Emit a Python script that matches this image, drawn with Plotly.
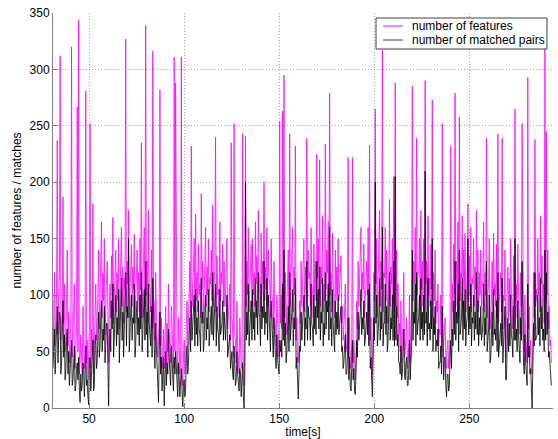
import numpy as np
import plotly.graph_objects as go

t_start = 31.0
t_step = 0.375

features = [
    45,70,120,55,80,100,237,65,95,120,312,60,70,90,187,75,110,50,60,95,140,55,85,40,50,80,320,45,75,90,110,35,60,70,267,50,344,30,40,65,
    50,30,90,60,35,55,281,40,60,25,45,70,252,35,70,50,181,30,55,85,110,60,75,100,140,70,95,120,165,80,120,95,150,65,100,115,130,70,40,85,
    110,80,135,100,169,75,95,120,140,85,120,95,150,70,105,130,160,90,125,75,115,105,327,85,130,110,175,80,110,125,145,90,125,105,154,75,100,115,140,95,
    120,85,150,105,235,80,110,125,160,90,339,100,130,75,175,110,105,85,140,70,316,95,95,60,120,85,70,45,60,80,282,55,80,35,50,70,35,60,90,40,
    75,50,110,70,55,40,90,65,60,35,311,50,288,60,45,30,80,55,30,45,311,35,20,45,60,30,40,75,95,55,70,100,130,80,232,90,110,120,150,85,
    172,95,120,85,145,100,110,80,190,105,130,75,100,120,160,90,125,100,150,85,115,110,140,95,180,90,120,125,240,85,135,100,105,80,165,95,120,110,145,90,
    130,90,100,120,150,70,85,95,110,60,235,80,70,45,252,65,60,40,95,55,45,30,80,50,35,40,243,25,20,45,241,90,130,100,160,85,110,125,145,90,
    150,100,120,90,165,110,135,95,175,120,110,85,155,100,130,110,200,95,125,105,160,90,140,115,110,80,150,100,95,70,130,85,75,55,100,65,60,45,254,75,
    100,70,263,90,295,80,120,65,85,100,140,75,243,90,110,120,160,85,125,100,232,60,80,45,40,55,95,75,130,90,110,120,150,85,125,105,239,90,140,115,
    120,90,160,110,105,80,145,100,130,95,225,115,150,100,220,90,125,110,170,85,110,95,234,105,140,120,165,90,279,100,120,85,155,110,100,80,140,95,125,100,
    150,95,110,120,135,75,90,60,70,85,110,50,55,70,222,45,80,35,40,55,222,40,60,30,25,50,95,70,130,90,110,125,160,95,120,105,145,80,100,115,
    130,100,160,85,233,60,80,45,30,70,120,95,265,110,150,80,110,120,175,90,130,105,317,85,120,115,160,95,140,75,100,120,185,90,125,110,150,95,205,85,
    288,90,140,80,110,65,75,50,95,40,60,75,120,45,50,60,80,35,45,55,100,40,70,85,285,95,130,110,160,85,239,100,120,120,150,95,175,105,130,90,
    150,95,290,110,130,85,170,100,115,90,145,105,273,80,120,95,140,75,95,85,110,55,70,65,100,50,252,45,55,70,80,40,35,55,60,35,45,75,232,60,
    110,85,145,100,279,90,130,110,165,80,258,95,120,115,170,90,140,105,155,85,110,120,181,95,135,100,160,85,115,110,150,90,125,105,175,95,140,85,120,100,
    140,90,105,115,165,85,120,100,239,80,100,110,150,70,80,95,130,85,155,100,110,90,145,80,243,75,95,110,120,85,239,70,100,95,140,45,70,90,125,80,
    115,85,150,100,95,70,135,90,265,95,110,80,145,100,85,65,120,90,252,75,70,50,100,60,55,40,293,70,90,45,60,35,30,55,120,80,238,90,105,95,
    150,100,120,85,170,110,135,90,110,75,319,95,245,100,140,70,90,55,60,40,
]

matched = [
    35,50,70,30,55,70,90,40,60,85,80,30,40,60,95,45,65,25,35,60,70,30,50,20,30,45,60,20,25,40,55,15,20,35,40,25,45,15,5,30,
    15,20,40,35,10,30,55,20,25,10,3,40,45,15,30,30,60,15,20,55,65,35,40,65,85,45,55,80,95,50,70,60,90,40,60,75,75,45,2,55,
    70,50,95,70,110,45,60,85,100,55,80,65,105,40,65,90,115,60,85,45,75,75,120,55,90,80,150,50,70,90,100,60,80,75,110,45,55,85,95,65,
    80,55,100,70,120,50,70,85,105,60,130,65,85,45,110,75,65,55,90,45,115,60,55,35,75,55,40,25,5,50,85,30,45,15,25,45,2,35,50,20,
    40,30,70,45,30,20,55,40,25,15,45,30,50,35,15,10,40,30,10,25,35,15,1,20,25,10,15,45,55,30,40,65,80,50,95,60,70,80,100,55,
    105,65,80,55,95,70,65,50,115,75,85,50,60,85,100,60,80,70,105,55,70,75,90,65,120,60,75,90,110,55,90,70,65,50,105,65,70,75,95,60,
    85,60,60,80,100,45,50,60,65,35,45,50,30,25,55,40,20,25,50,30,15,15,35,30,10,20,40,10,0,25,200,60,85,65,110,55,70,85,95,60,
    105,70,85,60,115,80,95,65,120,85,80,55,110,70,90,80,130,65,85,75,115,60,100,85,70,50,95,70,55,45,80,55,45,35,65,45,35,30,60,50,
    60,45,110,60,140,55,75,40,50,65,90,50,120,60,70,85,105,55,80,70,115,35,45,20,8,30,55,50,85,60,70,85,100,55,80,70,130,60,90,80,
    80,60,110,75,70,55,100,70,90,65,130,80,105,70,125,60,85,75,115,55,75,65,120,70,95,85,110,60,160,70,80,55,105,75,65,50,95,65,85,70,
    100,65,75,80,90,50,55,35,40,55,65,30,30,45,80,25,45,20,15,35,60,25,35,15,12,30,60,45,85,60,70,85,105,65,80,70,95,55,60,80,
    85,65,105,55,110,35,45,25,10,45,80,60,200,75,100,55,70,80,115,60,85,70,160,55,75,75,110,65,90,50,60,80,120,60,80,70,100,60,130,55,
    205,60,90,55,65,40,40,30,55,25,30,50,70,30,25,40,45,20,20,35,60,25,40,55,140,60,85,75,110,55,120,65,75,80,100,60,115,70,85,60,
    100,65,210,75,85,55,115,70,75,60,95,70,150,50,80,65,90,50,60,55,70,35,40,40,55,30,90,25,25,45,45,20,10,30,30,15,20,45,60,35,
    70,55,95,65,130,60,85,75,110,50,140,65,80,80,115,60,95,70,105,55,75,80,150,65,90,70,110,55,80,75,100,60,85,70,120,65,95,55,80,65,
    90,60,65,75,110,55,80,65,130,50,60,70,100,40,45,60,85,55,105,65,70,60,95,50,120,45,55,70,75,55,115,40,60,60,90,25,25,55,80,50,
    75,55,100,65,60,45,90,60,150,60,70,50,95,65,50,40,80,60,130,50,40,30,65,40,30,20,110,45,55,30,35,20,0,35,75,55,120,60,65,65,
    100,65,80,55,115,70,90,60,70,50,140,60,120,65,85,45,50,35,25,20,
]

series_names = ["number of features", "number of matched pairs"]
x_ticks = [50, 100, 150, 200, 250]
y_ticks = [0, 50, 100, 150, 200, 250, 300, 350]

t = t_start + t_step * np.arange(len(features))

fig = go.Figure()
fig.add_trace(go.Scatter(x=t, y=features, mode="lines", name=series_names[0],
                         line=dict(color="#ff00ff", width=0.8), showlegend=False))
fig.add_trace(go.Scatter(x=t, y=matched, mode="lines", name=series_names[1],
                         line=dict(color="#000000", width=0.8), showlegend=False))

font = dict(family="Liberation Sans, Arial, sans-serif", size=12, color="#000000")
L, R, T, B = 53, 5, 13, 31
W, H = 558, 439
pw, ph = W - L - R, H - T - B

def px(x):
    return (x - L) / pw

def py(y):
    return (H - B - y) / ph

shapes = [
    dict(type="rect", xref="paper", yref="paper", x0=px(376), x1=px(547), y0=py(49), y1=py(18),
         line=dict(color="#404040", width=1), fillcolor="white", layer="above"),
    dict(type="line", xref="paper", yref="paper", x0=px(383), x1=px(403), y0=py(26), y1=py(26),
         line=dict(color="#ff00ff", width=1), layer="above"),
    dict(type="line", xref="paper", yref="paper", x0=px(383), x1=px(403), y0=py(40), y1=py(40),
         line=dict(color="#404040", width=1), layer="above"),
]
annotations = [
    dict(xref="paper", yref="paper", x=px(410), y=py(26), xanchor="left", yanchor="middle",
         text=series_names[0], showarrow=False, font=font),
    dict(xref="paper", yref="paper", x=px(410), y=py(40), xanchor="left", yanchor="middle",
         text=series_names[1], showarrow=False, font=font),
]

fig.update_layout(
    width=W, height=H,
    margin=dict(l=L, r=R, t=T, b=B, autoexpand=False),
    paper_bgcolor="white", plot_bgcolor="white",
    font=font,
    showlegend=False,
    shapes=shapes,
    annotations=annotations,
)
fig.update_xaxes(range=[31, 294], tickvals=x_ticks, ticks="inside", ticklen=5,
                 tickcolor="#808080", showline=True, linecolor="#808080", linewidth=1,
                 showgrid=True, gridcolor="#a8a8a8", griddash="1px,2px", gridwidth=1,
                 zeroline=False, automargin=False,
                 title=dict(text="time[s]", standoff=2, font=dict(size=12)))
fig.update_yaxes(range=[0, 350], tickvals=y_ticks, ticks="inside", ticklen=5,
                 tickcolor="#808080", showline=True, linecolor="#808080", linewidth=1,
                 showgrid=True, gridcolor="#a8a8a8", griddash="1px,2px", gridwidth=1,
                 zeroline=False, automargin=False,
                 title=dict(text="number of features / matches", standoff=5, font=dict(size=12)))

fig.write_html("out.html")
